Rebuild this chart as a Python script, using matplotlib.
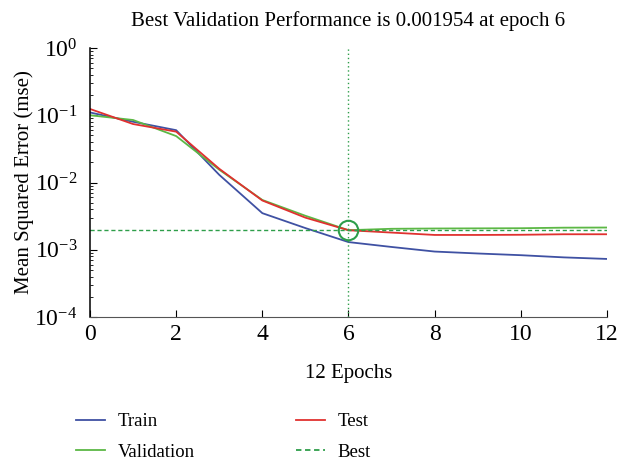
import matplotlib
matplotlib.use("Agg")
import matplotlib.pyplot as plt
from matplotlib.lines import Line2D

plt.rcParams["font.family"] = ["Liberation Serif", "DejaVu Serif"]
plt.rcParams["mathtext.fontset"] = "stix"

# ─── Data ──────────────────────────────────────────────────────────────────────
epochs = [0, 1, 2, 3, 4, 5, 6, 7, 8, 9, 10, 11, 12]
train = [0.11, 0.080, 0.060, 0.013, 0.0035, 0.0021, 0.0013, 0.00110, 0.00094, 0.00088, 0.00083, 0.00077, 0.00073]
validation = [0.10, 0.085, 0.049, 0.0155, 0.0055, 0.0032, 0.001954, 0.00205, 0.00207, 0.00208, 0.00209, 0.00213, 0.00214]
test = [0.124, 0.074, 0.057, 0.0160, 0.0054, 0.0030, 0.00195, 0.00180, 0.00166, 0.00166, 0.00167, 0.00170, 0.00170]
best_epoch = 6
best_value = 0.001954

C_TRAIN = "#3f51a3"
C_VAL = "#5cb845"
C_TEST = "#e0312f"
C_BEST = "#2e9e4a"

# ─── Figure ────────────────────────────────────────────────────────────────────
fig = plt.figure(figsize=(6.3, 4.61), dpi=100)
ax = fig.add_axes([90 / 630, 1 - 317 / 461, 517 / 630, 269 / 461])

ax.plot(epochs, train, color=C_TRAIN, linewidth=1.3)
ax.plot(epochs, validation, color=C_VAL, linewidth=1.3)
ax.plot(epochs, test, color=C_TEST, linewidth=1.3)
ax.axhline(best_value, color=C_BEST, linestyle=(0, (3, 2)), linewidth=1.0)
ax.axvline(best_epoch, color=C_BEST, linestyle=(0, (1, 2)), linewidth=1.0)
ax.plot([best_epoch], [best_value], marker="o", markersize=14, fillstyle="none",
        markeredgecolor=C_BEST, markeredgewidth=1.5, linestyle="none")

ax.set_yscale("log")
ax.set_xlim(0, 12)
ax.set_ylim(1e-4, 1)
ax.set_xticks([0, 2, 4, 6, 8, 10, 12])
ax.set_yticks([1e-4, 1e-3, 1e-2, 1e-1, 1])
ax.tick_params(which="both", direction="in", labelsize=17)
ax.tick_params(axis="y", which="major", length=5, pad=9)
ax.tick_params(axis="x", which="major", length=5, pad=5)
ax.tick_params(which="minor", length=2.5)
ax.spines[["top", "right"]].set_visible(False)
ax.spines["left"].set_linewidth(1.1)
ax.spines["bottom"].set_color("#555555")

ax.set_title("Best Validation Performance is 0.001954 at epoch 6", fontsize=15, pad=16)
ax.set_xlabel("12 Epochs", fontsize=15, labelpad=14)
ax.set_ylabel("Mean Squared Error (mse)", fontsize=15, labelpad=0)

handles = [
    Line2D([], [], color=C_TRAIN, linewidth=1.3, label="Train"),
    Line2D([], [], color=C_VAL, linewidth=1.3, label="Validation"),
    Line2D([], [], color=C_TEST, linewidth=1.3, label="Test"),
    Line2D([], [], color=C_BEST, linewidth=1.3, linestyle=(0, (3, 2)), label="Best"),
]
fig.legend(handles=handles, ncol=2, loc="center left", bbox_to_anchor=(67 / 630, 1 - 437 / 461),
           frameon=False, fontsize=13.5, borderpad=0, columnspacing=5.4, handlelength=1.55,
           handletextpad=0.65, labelspacing=0.7)

fig.savefig("out.png", dpi=100)
